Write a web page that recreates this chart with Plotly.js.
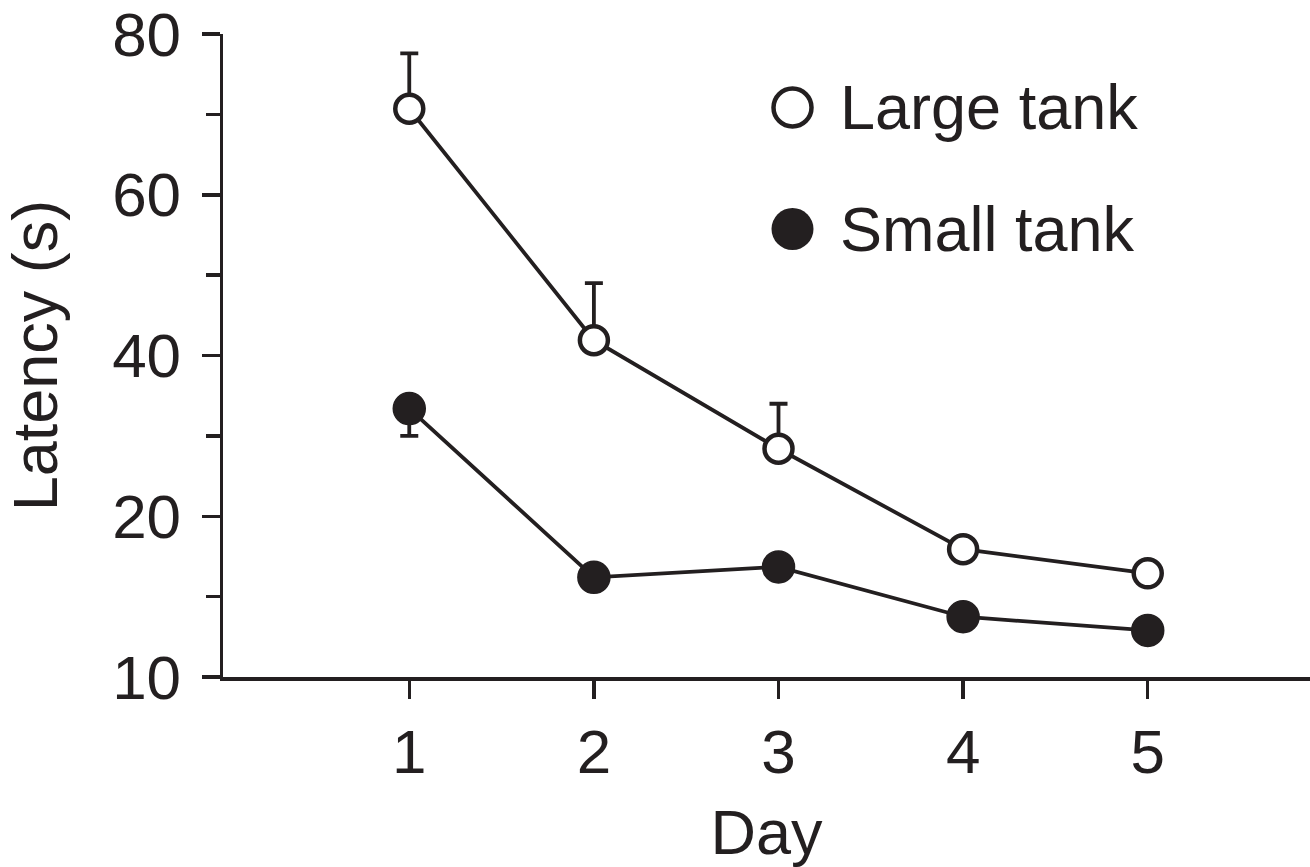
<!DOCTYPE html>
<html>
<head>
<meta charset="utf-8">
<script src="https://cdn.plot.ly/plotly-3.0.1.min.js"></script>
<style>html,body{margin:0;padding:0;background:#fff}#chart{width:1310px;height:867px}</style>
</head>
<body>
<div id="chart"></div>
<script>
// ---- data ----
const days = [1, 2, 3, 4, 5];
const dayTickText = ['1', '2', '3', '4', '5'];
const largeTank = [70.7, 41.9, 28.4, 15.9, 12.9];
const largeTankErrPlus = [6.9, 7.1, 5.6, 0, 0];
const smallTank = [33.4, 12.4, 13.7, 7.5, 5.8];
const smallTankErrMinus = [3.4, 0, 0, 0, 0];
const yTickVals = [0, 20, 40, 60, 80];
const yTickText = ['10', '20', '40', '60', '80'];
const seriesNames = ['Large tank', 'Small tank'];

// ---- styling ----
const INK = '#231f20';
const FONT = '"Liberation Sans", Arial, Helvetica, sans-serif';
const W = 1310, H = 867;
const M = {l: 223, r: 0, t: 34, b: 190};
const plotW = W - M.l - M.r, plotH = H - M.t - M.b;
const px2paperX = p => (p - M.l) / plotW;
const px2paperY = p => (H - M.b - p) / plotH;

const traces = [
  {
    x: days, y: largeTank, name: seriesNames[0], type: 'scatter', mode: 'lines+markers',
    line: {color: INK, width: 3.8},
    marker: {symbol: 'circle', size: 28, color: '#ffffff', line: {color: INK, width: 4.5}},
    error_y: {type: 'data', symmetric: false, array: largeTankErrPlus, arrayminus: days.map(() => 0),
              color: INK, thickness: 3.8, width: 9},
    showlegend: false
  },
  {
    x: days, y: smallTank, name: seriesNames[1], type: 'scatter', mode: 'lines+markers',
    line: {color: INK, width: 3.8},
    marker: {symbol: 'circle', size: 32, color: INK, line: {color: INK, width: 1.5}},
    error_y: {type: 'data', symmetric: false, array: days.map(() => 0), arrayminus: smallTankErrMinus,
              color: INK, thickness: 3.8, width: 9},
    showlegend: false
  }
];

const legendX = px2paperX(792.5);
const layout = {
  width: W, height: H,
  margin: M,
  paper_bgcolor: '#ffffff', plot_bgcolor: '#ffffff',
  font: {family: FONT, color: INK, size: 62},
  showlegend: false,
  xaxis: {
    range: [-0.009, 5.879], tickmode: 'array', tickvals: days, ticktext: dayTickText,
    showgrid: false, zeroline: false, showline: true, linecolor: INK, linewidth: 3.5,
    ticks: 'outside', ticklen: 18, tickwidth: 3.5, tickcolor: INK,
    tickfont: {family: FONT, size: 62, color: INK},
    ticklabeloverflow: 'allow',
    title: {text: 'Day', font: {family: FONT, size: 63, color: INK}, standoff: 27},
    automargin: false, fixedrange: true
  },
  yaxis: {
    range: [0, 80], tickmode: 'array', tickvals: yTickVals, ticktext: yTickText,
    showgrid: false, zeroline: false, showline: true, linecolor: INK, linewidth: 3.5,
    ticks: 'outside', ticklen: 18, tickwidth: 3.5, tickcolor: INK,
    ticklabelstandoff: 8, ticklabeloverflow: 'allow',
    minor: {tickmode: 'linear', tick0: 0, dtick: 10, ticks: 'outside', ticklen: 14, tickwidth: 3.5, tickcolor: INK, showgrid: false},
    tickfont: {family: FONT, size: 62, color: INK},
    title: {text: 'Latency (s)', font: {family: FONT, size: 63, color: INK}, standoff: 38},
    automargin: false, fixedrange: true
  },
  shapes: [
    {type: 'circle', xref: 'paper', yref: 'paper', xsizemode: 'pixel', ysizemode: 'pixel',
     xanchor: legendX, yanchor: px2paperY(107.5), x0: -19, x1: 19, y0: -19, y1: 19,
     line: {color: INK, width: 4.5}, fillcolor: '#ffffff'},
    {type: 'circle', xref: 'paper', yref: 'paper', xsizemode: 'pixel', ysizemode: 'pixel',
     xanchor: legendX, yanchor: px2paperY(229), x0: -21, x1: 21, y0: -21, y1: 21,
     line: {color: INK, width: 0}, fillcolor: INK}
  ],
  annotations: [
    {xref: 'paper', yref: 'paper', x: px2paperX(838), y: px2paperY(107), xanchor: 'left', yanchor: 'middle',
     text: seriesNames[0], showarrow: false, font: {family: FONT, size: 63, color: INK}},
    {xref: 'paper', yref: 'paper', x: px2paperX(838), y: px2paperY(229), xanchor: 'left', yanchor: 'middle',
     text: seriesNames[1], showarrow: false, font: {family: FONT, size: 63, color: INK}}
  ]
};

Plotly.newPlot('chart', traces, layout, {displayModeBar: false, staticPlot: true});
</script>
</body>
</html>
